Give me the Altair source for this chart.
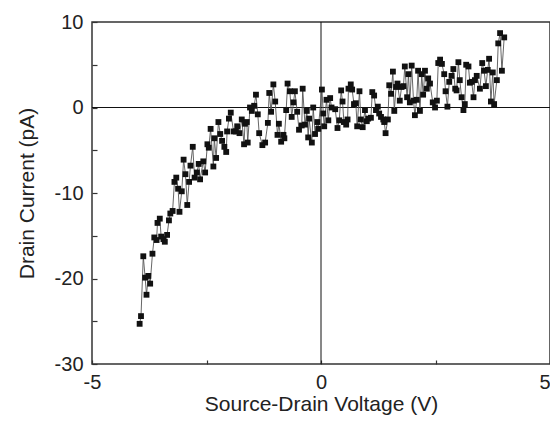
import altair as alt
import pandas as pd

# Source-drain voltage (V) and drain current (pA)
v_a = [-3.96, -3.93, -3.88, -3.84, -3.81, -3.77, -3.73, -3.68, -3.64, -3.59,
       -3.57, -3.52, -3.49, -3.44, -3.41, -3.36, -3.32, -3.29, -3.24, -3.20,
       -3.16, -3.12, -3.09, -3.04, -3.00, -2.96, -2.92, -2.88, -2.85, -2.80,
       -2.76, -2.71, -2.67, -2.64, -2.57, -2.53, -2.48, -2.45, -2.41]
i_a = [-25.3, -24.4, -17.4, -19.9, -21.9, -19.7, -20.6, -17.1, -15.2, -15.5,
       -13.5, -13.0, -15.1, -15.4, -15.7, -14.9, -13.2, -12.4, -12.1, -8.7,
       -8.2, -9.5, -12.2, -9.8, -6.1, -7.8, -11.4, -8.7, -6.8, -4.6,
       -8.2, -7.6, -6.6, -8.4, -6.3, -7.6, -4.3, -4.7, -2.5]

v_b = [-2.35, -2.33, -2.29, -2.24, -2.20, -2.16, -2.11, -2.07, -2.05, -2.01,
       -1.97, -1.91, -1.86, -1.83, -1.78, -1.73, -1.68, -1.66, -1.62, -1.60,
       -1.55, -1.51, -1.46, -1.42, -1.38, -1.35]
i_b = [-6.9, -3.6, -5.9, -1.7, -3.1, -3.9, -4.6, -5.2, -2.8, -1.3,
       -0.6, -2.8, -2.8, -2.2, -3.0, -1.4, -4.3, -1.9, -1.7, -4.1,
       0.0, -0.4, 0.2, 1.5, -0.8, -3.0]

v_c = [-1.28, -1.22, -1.16, -1.13, -1.09, -1.04, -1.00, -0.95, -0.92, -0.87,
       -0.82, -0.80, -0.76, -0.73, -0.68, -0.64, -0.60, -0.57, -0.52, -0.48,
       -0.42, -0.40, -0.35, -0.31, -0.28, -0.26, -0.20, -0.17, -0.13, -0.08,
       -0.06]
i_c = [-4.4, -4.1, -1.8, 1.7, -0.5, 2.7, 0.7, -3.2, -1.9, -4.0,
       -3.2, -3.6, -0.3, 2.8, 1.9, -1.1, 0.6, 1.9, -0.5, -2.6,
       -2.1, 2.2, -2.0, -0.4, -3.5, -1.3, -4.1, 0.0, -3.1, -1.7,
       -2.5]

v_d = [0.02, 0.05, 0.07, 0.12, 0.16, 0.20, 0.23, 0.31, 0.36, 0.40,
       0.44, 0.47, 0.50, 0.55, 0.58, 0.60, 0.65, 0.68, 0.72, 0.76,
       0.79, 0.84, 0.87, 0.91, 0.96, 1.00, 1.03, 1.09, 1.12, 1.16,
       1.20, 1.24, 1.27, 1.31, 1.36, 1.38, 1.41, 1.46, 1.49, 1.53,
       1.57, 1.60, 1.64, 1.67, 1.72, 1.76, 1.80, 1.83, 1.88, 1.91,
       1.94, 1.98, 2.02, 2.05, 2.09, 2.12, 2.16, 2.20, 2.23, 2.27,
       2.31, 2.34, 2.38, 2.44, 2.49, 2.53, 2.56, 2.60, 2.64, 2.69,
       2.72, 2.76, 2.80, 2.85, 2.89, 2.93, 2.96, 3.00, 3.03, 3.07,
       3.11, 3.14, 3.17, 3.22, 3.25, 3.29, 3.33, 3.36, 3.40, 3.47,
       3.52, 3.56, 3.60, 3.64, 3.67, 3.71, 3.75, 3.78, 3.84, 3.87,
       3.91, 3.95, 4.00]
i_d = [2.1, -0.7, -2.2, 0.9, -1.5, 1.1, 0.0, -0.2, -2.4, -1.5,
       2.0, 0.7, -1.7, -2.0, -1.4, 2.2, 2.7, 2.1, 0.4, 0.5,
       -2.2, 1.9, -1.4, -2.3, -0.3, -1.6, -1.3, -1.2, 1.8, 1.4,
       -0.3, 0.1, -0.7, -1.1, -1.4, -1.7, -3.0, -1.4, 2.6, 1.6,
       4.2, -0.4, 2.4, 2.8, 0.8, 2.4, 2.5, 4.8, 1.2, 3.9,
       0.6, 4.9, 0.8, -0.9, 0.9, 4.3, -0.4, 3.9, 1.5, 4.3,
       2.2, 3.4, 2.8, 0.6, 0.0, 0.8, 5.2, 5.6, 5.1, 3.9,
       1.9, 0.1, 3.0, 3.7, 4.5, 2.2, 2.0, 5.3, 3.2, 1.2,
       -0.3, 0.4, 5.0, 4.8, 2.9, 3.0, 1.2, 3.2, 3.7, 2.2,
       5.2, 4.3, 2.5, 4.4, 5.7, 0.7, 4.1, 0.4, 3.2, 7.5,
       8.7, 4.3, 8.2]

x_ticks = [-5, -2.5, 0, 2.5, 5]
y_ticks = [-30, -25, -20, -15, -10, -5, 0, 5, 10]

df = pd.DataFrame({"V": v_a + v_b + v_c + v_d, "I": i_a + i_b + i_c + i_d})
df["n"] = range(len(df))
zero = pd.DataFrame({"z": [0]})

FONT = "Liberation Sans"
TXT = "#222222"

xscale = alt.Scale(domain=[-5, 5], nice=False, zero=False)
yscale = alt.Scale(domain=[-30, 10], nice=False, zero=False)

xaxis = alt.Axis(
    values=x_ticks,
    labelExpr="datum.value % 5 === 0 ? '' + datum.value : ''",
    labelFlush=False,
    labelAlign={"condition": {"test": "datum.value === 5", "value": "right"}, "value": "center"},
    offset=-4, tickSize=4, labelPadding=8, domain=False, grid=False,
    title="Source-Drain Voltage (V)",
    titleX=229, titleY=50, titleAlign="center", titleBaseline="alphabetic",
)
yaxis = alt.Axis(
    values=y_ticks,
    labelExpr="datum.value % 10 === 0 ? '' + datum.value : ''",
    labelFlush=False,
    offset=-5, tickSize=5, labelPadding=9, domain=False, grid=False,
    title="Drain Current (pA)",
    titleX=-64, titleY=171, titleAlign="center", titleBaseline="alphabetic",
)

base = alt.Chart(df)

line = base.mark_line(color="#555555", strokeWidth=0.9).encode(
    x=alt.X("V:Q", scale=xscale, axis=xaxis),
    y=alt.Y("I:Q", scale=yscale, axis=yaxis),
    order="n:Q",
)
pts = base.mark_point(shape="square", filled=True, size=34, color="#111111", opacity=1).encode(
    x=alt.X("V:Q", scale=xscale),
    y=alt.Y("I:Q", scale=yscale),
)
vrule = alt.Chart(zero).mark_rule(color="#111111", strokeWidth=1).encode(
    x=alt.X("z:Q", scale=xscale)
)
hrule = alt.Chart(zero).mark_rule(color="#111111", strokeWidth=1).encode(
    y=alt.Y("z:Q", scale=yscale)
)

chart = (
    alt.layer(vrule, hrule, line, pts)
    .properties(
        width=458,
        height=342,
        autosize=alt.AutoSizeParams(type="none"),
        padding={"left": 84, "top": 14, "right": 0, "bottom": 55},
    )
    .configure_view(stroke="#333333", strokeWidth=1.5)
    .configure_axis(
        labelFont=FONT, labelFontSize=20, labelColor=TXT,
        titleFont=FONT, titleFontSize=21, titleFontWeight="normal", titleColor=TXT,
        tickColor="#333333", tickWidth=1.2,
    )
)

chart.save("out.html", embed_options={"renderer": "svg", "actions": False})
